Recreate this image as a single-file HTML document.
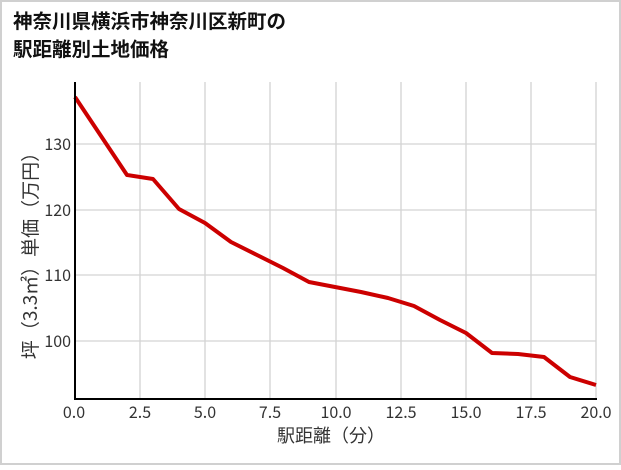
<!DOCTYPE html>
<html><head><meta charset="utf-8"><style>
html,body{margin:0;padding:0;background:#fff}
body{width:621px;height:465px;overflow:hidden}
</style></head><body>
<svg width="621" height="465" xmlns="http://www.w3.org/2000/svg" font-family="'Noto Sans CJK JP','Liberation Sans',sans-serif">
<rect x="1" y="1" width="619" height="463" fill="#fff" stroke="#d0d0d0" stroke-width="2"/>
<text x="13" y="28" font-size="19.5" font-weight="bold" fill="#111">神奈川県横浜市神奈川区新町の</text>
<text x="13" y="56" font-size="19.5" font-weight="bold" fill="#111">駅距離別土地価格</text>
<g stroke="#d3d3d3" stroke-width="1.3">
<line x1="140" y1="82" x2="140" y2="398"/><line x1="205" y1="82" x2="205" y2="398"/>
<line x1="270" y1="82" x2="270" y2="398"/><line x1="336" y1="82" x2="336" y2="398"/>
<line x1="401" y1="82" x2="401" y2="398"/><line x1="466" y1="82" x2="466" y2="398"/>
<line x1="531" y1="82" x2="531" y2="398"/><line x1="596" y1="82" x2="596" y2="398"/>
<line x1="75" y1="144" x2="596" y2="144"/><line x1="75" y1="210" x2="596" y2="210"/>
<line x1="75" y1="275" x2="596" y2="275"/><line x1="75" y1="341" x2="596" y2="341"/>
</g>
<polyline fill="none" stroke="#cc0000" stroke-width="4" stroke-linejoin="round" points="75,97 127,175 153,179 179,209 205,223 231,242 257,255 283,268 309,282 335,287 361,292 388,298 414,306 440,320 466,333 492,353 518,354 544,357 570,377 596,385"/>
<line x1="75" y1="82" x2="75" y2="399" stroke="#000" stroke-width="2"/>
<line x1="74" y1="399" x2="597" y2="399" stroke="#000" stroke-width="2"/>
<g font-size="16" fill="#333" text-anchor="end">
<text x="71" y="150">130</text><text x="71" y="216">120</text><text x="71" y="281">110</text><text x="71" y="347">100</text>
</g>
<g font-size="16" fill="#333" text-anchor="middle">
<text x="74" y="418">0.0</text><text x="140" y="418">2.5</text><text x="205" y="418">5.0</text><text x="270" y="418">7.5</text><text x="336" y="418">10.0</text><text x="401" y="418">12.5</text><text x="466" y="418">15.0</text><text x="531" y="418">17.5</text><text x="596" y="418">20.0</text>
<text x="331" y="442" font-size="18">駅距離（分）</text>
<text transform="translate(37,251) rotate(-90)" font-size="19">坪（3.3㎡）単価（万円）</text>
</g>
</svg>
</body></html>
